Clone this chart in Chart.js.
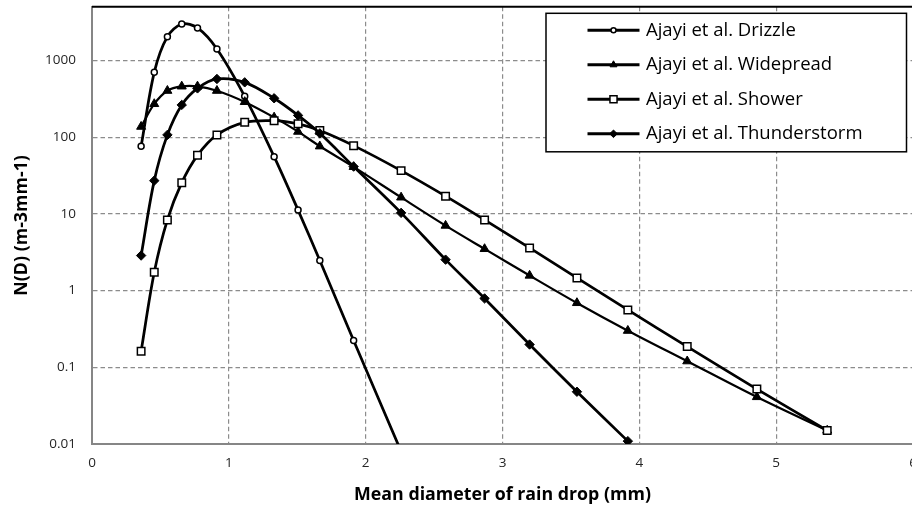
<!DOCTYPE html>
<html>
<head>
<meta charset="utf-8">
<title>Raindrop size distribution</title>
<script src="https://cdn.jsdelivr.net/npm/chart.js@4.4.1/dist/chart.umd.min.js"></script>
<style>
  html, body { margin: 0; padding: 0; background: #fff; overflow: hidden; }
  #wrap { width: 930px; height: 510px; }
</style>
</head>
<body>
<div id="wrap"><canvas id="dsdChart" width="930" height="510"></canvas></div>
<script>
// class mean diameters (mm)
const diameters = [0.359, 0.455, 0.551, 0.656, 0.771, 0.913, 1.116, 1.331, 1.506, 1.665,
                   1.912, 2.259, 2.584, 2.869, 3.198, 3.544, 3.916, 4.350, 4.859, 5.373];

// N(D) per class, m-3 mm-1
const drizzle = [76, 699, 2040, 2985, 2650, 1410, 340, 55.7, 11.2, 2.46, 0.223, 0.008];
const widespread = [137, 271, 403, 459, 459, 403, 288, 181, 118, 76, 41, 16.4, 7.03, 3.49,
                    1.57, 0.69, 0.30, 0.12, 0.041, 0.015];
const shower = [0.162, 1.73, 8.34, 25.5, 57.9, 107, 156, 164, 149, 122, 77.5, 36.6, 17.0, 8.34,
                3.60, 1.46, 0.56, 0.186, 0.052, 0.015];
const thunderstorm = [2.86, 27.1, 107, 263, 432, 573, 518, 321, 192, 112, 41.3, 10.3, 2.53,
                      0.79, 0.198, 0.048, 0.0109];

const seriesNames = ['Ajayi et al. Drizzle', 'Ajayi et al. Widepread', 'Ajayi et al. Shower', 'Ajayi et al. Thunderstorm'];
const xTicks = [0, 1, 2, 3, 4, 5, 6];
const yTicks = [0.01, 0.1, 1, 10, 100, 1000];
const yTickLabels = ['0.01', '0.1', '1', '10', '100', '1000'];

const toPoints = vals => vals.map((v, i) => ({ x: diameters[i], y: v }));

Chart.defaults.font.family = "'Open Sans', sans-serif";
Chart.defaults.color = '#262626';

// top edge of the plot area
const plotFrame = {
  id: 'plotFrame',
  beforeDatasetsDraw(chart) {
    const { ctx, chartArea: a } = chart;
    ctx.save();
    ctx.strokeStyle = '#000';
    ctx.lineWidth = 2;
    ctx.beginPath();
    ctx.moveTo(a.left, a.top);
    ctx.lineTo(a.right, a.top);
    ctx.stroke();
    ctx.restore();
  }
};

// boxed legend in the upper right of the plot
const boxLegend = {
  id: 'boxLegend',
  afterDraw(chart) {
    const { ctx, chartArea: a } = chart;
    const x0 = a.right - 367, y0 = a.top + 6.5, w = 360.5, h = 138.5;
    ctx.save();
    ctx.fillStyle = '#fff';
    ctx.fillRect(x0, y0, w, h);
    ctx.lineWidth = 1.5;
    ctx.strokeStyle = '#000';
    ctx.strokeRect(x0, y0, w, h);
    ctx.font = "18.5px 'Open Sans'";
    ctx.textBaseline = 'middle';
    ctx.textAlign = 'left';
    chart.data.datasets.forEach((ds, i) => {
      const y = y0 + 17 + i * 34.5;
      ctx.strokeStyle = '#000';
      ctx.lineWidth = 3;
      ctx.beginPath();
      ctx.moveTo(x0 + 41.5, y);
      ctx.lineTo(x0 + 93.5, y);
      ctx.stroke();
      ctx.fillStyle = ds.pointBackgroundColor;
      ctx.lineWidth = ds.pointBorderWidth;
      Chart.helpers.drawPoint(ctx, {
        pointStyle: ds.pointStyle,
        radius: ds.legendRadius,
        borderWidth: ds.pointBorderWidth,
        rotation: 0
      }, x0 + 67.5, y);
      ctx.fillStyle = '#000';
      ctx.fillText(ds.label, x0 + 100, y);
    });
    ctx.restore();
  }
};

const lineStyle = (label, values, opts) => Object.assign({
  label: label,
  data: toPoints(values),
  borderColor: '#000',
  pointBorderColor: '#000',
  tension: 0.33,
  fill: false
}, opts);

new Chart(document.getElementById('dsdChart'), {
  type: 'line',
  data: {
    datasets: [
      lineStyle(seriesNames[0], drizzle, {
        borderWidth: 2.75, pointStyle: 'circle', pointRadius: 3, legendRadius: 2.5,
        pointBackgroundColor: '#fff', pointBorderWidth: 1.5, order: 3
      }),
      lineStyle(seriesNames[1], widespread, {
        borderWidth: 2.2, pointStyle: 'triangle', pointRadius: 5.2, legendRadius: 4,
        pointBackgroundColor: '#000', pointBorderWidth: 1, order: 2
      }),
      lineStyle(seriesNames[2], shower, {
        borderWidth: 2.75, pointStyle: 'rect', pointRadius: 5.3, legendRadius: 5,
        pointBackgroundColor: '#fff', pointBorderWidth: 1.5, order: 1
      }),
      lineStyle(seriesNames[3], thunderstorm, {
        borderWidth: 2.75, pointStyle: 'rectRot', pointRadius: 4.7, legendRadius: 3.8,
        pointBackgroundColor: '#000', pointBorderWidth: 1, order: 0
      })
    ]
  },
  options: {
    responsive: false,
    animation: false,
    events: [],
    layout: { padding: { top: 6, right: 17, bottom: 0, left: 0 } },
    plugins: {
      legend: { display: false },
      tooltip: { enabled: false }
    },
    scales: {
      x: {
        type: 'linear',
        min: 0,
        max: 6,
        afterBuildTicks: scale => { scale.ticks = xTicks.map(v => ({ value: v })); },
        afterFit: scale => { scale.height = 66; scale.paddingLeft = 0; scale.paddingRight = 0; },
        ticks: { font: { size: 13.5 }, padding: 11, maxRotation: 0 },
        grid: { color: '#8c8c8c', lineWidth: 1.2, drawTicks: false },
        border: { color: '#868686', width: 2, dash: [4.5, 3] },
        title: {
          display: true,
          text: 'Mean diameter of rain drop (mm)',
          color: '#000',
          font: { size: 17.8, weight: 'bold' },
          padding: { top: 0, bottom: 4 }
        }
      },
      y: {
        type: 'logarithmic',
        min: 0.01,
        max: 5000,
        afterBuildTicks: scale => { scale.ticks = yTicks.map(v => ({ value: v })); },
        afterFit: scale => { scale.width = 92; scale.paddingTop = 0; scale.paddingBottom = 0; },
        ticks: {
          font: { size: 13.5 },
          padding: 16,
          callback: (v, i) => yTickLabels[i]
        },
        grid: { color: '#8c8c8c', lineWidth: 1.2, drawTicks: false },
        border: { color: '#868686', width: 2, dash: [4.5, 3] },
        title: {
          display: true,
          text: 'N(D) (m-3mm-1)',
          color: '#000',
          font: { size: 17.8, weight: 'bold' },
          padding: { top: 11, bottom: 0 }
        }
      }
    }
  },
  plugins: [plotFrame, boxLegend]
});
</script>
</body>
</html>
